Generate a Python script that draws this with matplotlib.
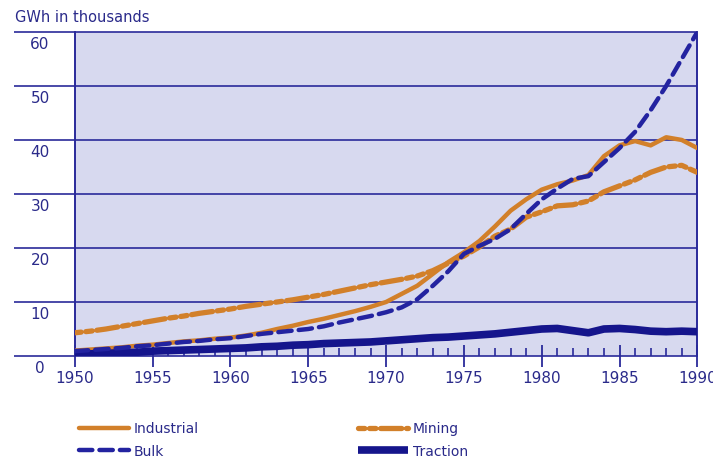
import matplotlib.pyplot as plt
import numpy as np

years = np.arange(1950, 1991)

industrial = [1.0, 1.2, 1.4, 1.6, 1.9, 2.1, 2.4, 2.7, 2.9, 3.2,
              3.4, 3.8, 4.3, 5.0, 5.6, 6.3, 6.9, 7.6, 8.3, 9.1,
              10.0, 11.5, 13.0, 15.2, 17.4, 19.2, 21.3, 24.0, 26.9, 29.0,
              30.8, 31.8, 32.5, 33.5, 37.0, 39.0, 39.8, 39.0, 40.5, 40.0, 38.5]
mining = [4.3, 4.6, 5.0, 5.5, 6.0, 6.5, 7.0, 7.4, 7.9, 8.3,
          8.7, 9.2, 9.6, 10.0, 10.4, 10.9, 11.4, 12.0, 12.6, 13.2,
          13.7, 14.2, 14.8, 15.8, 17.2, 18.5, 20.2, 22.2, 23.5, 25.7,
          26.7, 27.8, 28.0, 28.7, 30.4, 31.5, 32.6, 34.0, 35.0, 35.3, 34.0]
bulk = [0.9, 1.1, 1.3, 1.5, 1.8, 2.0, 2.3, 2.6, 2.8, 3.1,
        3.3, 3.7, 4.1, 4.4, 4.7, 5.0, 5.5, 6.2, 6.8, 7.4,
        8.1, 9.0, 10.5, 13.0, 15.7, 18.9, 20.4, 21.7, 23.5, 26.3,
        29.0, 31.0, 32.8, 33.3, 35.9, 38.5, 41.5, 45.5, 50.0, 55.0, 60.0]
traction = [0.3, 0.4, 0.5, 0.6, 0.7, 0.9, 1.0, 1.1, 1.2, 1.3,
            1.4, 1.5, 1.7, 1.8, 2.0, 2.1, 2.3, 2.4, 2.5, 2.6,
            2.8, 3.0, 3.2, 3.4, 3.5, 3.7, 3.9, 4.1, 4.4, 4.7,
            5.0, 5.1, 4.7, 4.3, 5.0, 5.1, 4.9, 4.6, 4.5, 4.6, 4.5]

yticks = [0, 10, 20, 30, 40, 50, 60]
xticks = [1950, 1955, 1960, 1965, 1970, 1975, 1980, 1985, 1990]

orange = '#d2802a'
blue = '#2323a0'
navy = '#15158c'
txt = '#2a2a8a'

fig = plt.figure(figsize=(7.13, 4.64), dpi=100)
ax = fig.add_axes([0.105, 0.2306, 0.873, 0.6984])
ax.set_facecolor('#d7d9ef')

# grid lines that run out past the left edge
ax.hlines(yticks, -0.097, 1, transform=ax.get_yaxis_transform(),
          color='#2a2a9a', lw=1.2, clip_on=False, zorder=1)
for v in yticks:
    ax.text(-0.056, v - 2.2, str(v), transform=ax.get_yaxis_transform(),
            ha='center', va='center', fontsize=11, color=txt)

l_ind, = ax.plot(years, industrial, color=orange, lw=3.2, solid_capstyle='round',
                 label='Industrial', zorder=3)
l_min, = ax.plot(years, mining, color=orange, lw=3.8, dash_capstyle='round',
                 dashes=(1.2, 0.9, 1.2, 0.9, 4, 0.9), label='Mining', zorder=3)
l_bulk, = ax.plot(years, bulk, color=blue, lw=3.2, dash_capstyle='round',
                  dashes=(3, 1.6), label='Bulk', zorder=4)
l_tr, = ax.plot(years, traction, color=navy, lw=5.5, solid_capstyle='butt',
                label='Traction', zorder=3)

ax.set_xlim(1950, 1990)
ax.set_ylim(0, 60)
ax.set_yticks([])
ax.set_xticks(xticks)
ax.set_xticks(years, minor=True)
ax.tick_params(axis='x', which='major', direction='inout', length=16, width=1.3,
               color='#2a2a9a', labelsize=11, labelcolor=txt, pad=2)
ax.tick_params(axis='x', which='minor', direction='in', length=6, width=1.2,
               color='#2a2a9a')
for s in ['top', 'bottom']:
    ax.spines[s].set_visible(False)
for s in ['left', 'right']:
    ax.spines[s].set_color('#2a2a9a')
    ax.spines[s].set_linewidth(1.4)

fig.text(15 / 713, 1 - 18 / 464, 'GWh in thousands', fontsize=10.5, color=txt,
         ha='left', va='center')

leg1 = fig.legend([l_ind, l_bulk], ['Industrial', 'Bulk'], loc='upper left',
                  bbox_to_anchor=(66 / 713, 1 - 410 / 464), frameon=False,
                  fontsize=10, handlelength=3.6, labelspacing=0.6,
                  handletextpad=0.4, labelcolor=txt)
fig.legend([l_min, l_tr], ['Mining', 'Traction'], loc='upper left',
           bbox_to_anchor=(345 / 713, 1 - 410 / 464), frameon=False,
           fontsize=10, handlelength=3.6, labelspacing=0.6,
           handletextpad=0.4, labelcolor=txt)

fig.savefig('out.png', dpi=100)
